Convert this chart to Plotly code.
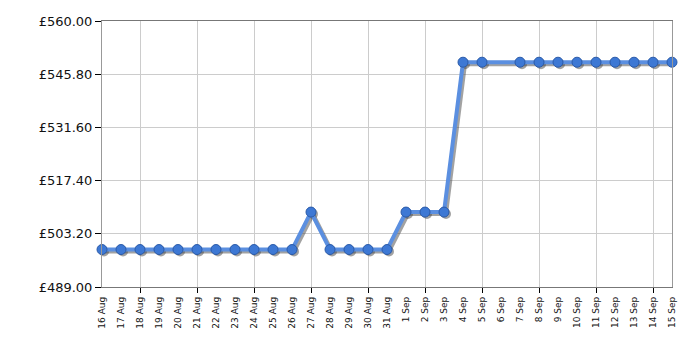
import plotly.graph_objects as go
import pandas as pd

dates = ["2024-08-16", "2024-08-17", "2024-08-18", "2024-08-19", "2024-08-20",
         "2024-08-21", "2024-08-22", "2024-08-23", "2024-08-24", "2024-08-25",
         "2024-08-26", "2024-08-27", "2024-08-28", "2024-08-29", "2024-08-30",
         "2024-08-31", "2024-09-01", "2024-09-02", "2024-09-03", "2024-09-04",
         "2024-09-05", "2024-09-07", "2024-09-08", "2024-09-09", "2024-09-10",
         "2024-09-11", "2024-09-12", "2024-09-13", "2024-09-14", "2024-09-15"]
prices = [499, 499, 499, 499, 499, 499, 499, 499, 499, 499,
          499, 509, 499, 499, 499, 499, 509, 509, 509, 549,
          549, 549, 549, 549, 549, 549, 549, 549, 549, 549]
y_ticks = [489.00, 503.20, 517.40, 531.60, 545.80, 560.00]
y_tick_labels = ["£489.00", "£503.20", "£517.40", "£531.60", "£545.80", "£560.00"]

x0 = pd.Timestamp("2024-08-16")
x1 = pd.Timestamp("2024-09-15")
ymin, ymax = 489.0, 560.0

plot_w = 570.0
plot_h = 265.0
shift_px = 2.0
dx = (x1 - x0) * (shift_px / plot_w)
dy = (ymax - ymin) * (shift_px / plot_h)

label_days = pd.date_range(x0, x1, freq="D")
label_text = [f"{d.day} {d.strftime('%b')}" for d in label_days]

font = "DejaVu Sans"
fig = go.Figure()

# base axes carrier (invisible)
fig.add_trace(go.Scatter(
    x=dates, y=prices, xaxis="x", yaxis="y", mode="lines",
    line=dict(color="rgba(0,0,0,0)", width=0),
    hoverinfo="skip", showlegend=False))

# shadow
fig.add_trace(go.Scatter(
    x=dates, y=prices, xaxis="x2", yaxis="y2", mode="lines+markers",
    line=dict(color="rgba(70,70,70,0.5)", width=4),
    marker=dict(size=10, color="rgba(70,70,70,0.5)", line=dict(width=0)),
    cliponaxis=False, hoverinfo="skip", showlegend=False))

# main
fig.add_trace(go.Scatter(
    x=dates, y=prices, xaxis="x3", yaxis="y3", mode="lines+markers",
    line=dict(color="#5b8fe0", width=4),
    marker=dict(size=10, color="#3d78d4", line=dict(color="#2a5aa8", width=1)),
    cliponaxis=False, showlegend=False))

fig.update_layout(
    width=700, height=350,
    margin=dict(l=102, r=28, t=21, b=63),
    paper_bgcolor="white", plot_bgcolor="white",
    xaxis=dict(
        type="date", range=[x0, x1], tick0="2024-08-18", dtick=3 * 86400000,
        showticklabels=False, ticks="outside", ticklen=5, tickcolor="black",
        showgrid=True, gridcolor="#cccccc", gridwidth=1, zeroline=False,
        showline=True, linecolor="#777777", linewidth=1, mirror=True),
    yaxis=dict(
        range=[ymin, ymax], tickvals=y_ticks, ticktext=y_tick_labels,
        ticks="outside", ticklen=6, tickcolor="black",
        tickfont=dict(family=font, size=13, color="#111111"),
        showgrid=True, gridcolor="#cccccc", gridwidth=1, zeroline=False,
        showline=True, linecolor="#999999", linewidth=1, mirror=True),
    xaxis2=dict(type="date", overlaying="x", range=[x0 - dx, x1 - dx], visible=False),
    yaxis2=dict(overlaying="y", range=[ymin + dy, ymax + dy], visible=False),
    xaxis3=dict(
        type="date", overlaying="x", range=[x0, x1],
        tickvals=label_days, ticktext=label_text, tickangle=-90,
        tickfont=dict(family=font, size=9, color="#111111"),
        ticklabelstandoff=7,
        ticks="", showgrid=False, zeroline=False, showline=False),
    yaxis3=dict(overlaying="y", range=[ymin, ymax], visible=False),
)

fig.write_html("out.html")
